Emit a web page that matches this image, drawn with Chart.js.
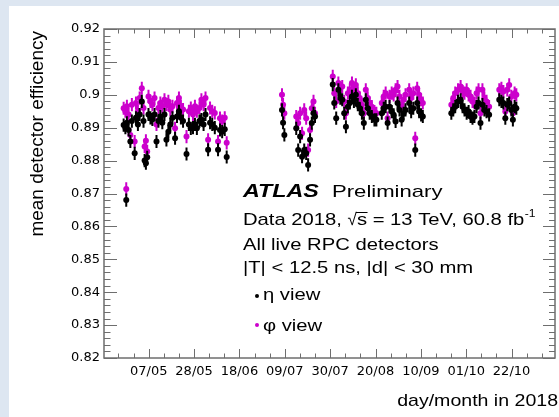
<!DOCTYPE html>
<html>
<head>
<meta charset="utf-8">
<script src="https://cdn.jsdelivr.net/npm/chart.js@4.4.0/dist/chart.umd.min.js"></script>
<style>
  html, body { margin: 0; padding: 0; background: #dde6f1; overflow: hidden; }
  canvas { display: block; }
</style>
</head>
<body>
<canvas id="plot" width="559" height="417"></canvas>
<script>
// day of year 2018 for each run
const DAYS = [
  115.4, 116.2, 116.6, 116.9, 117.7, 118.5, 119.2, 120.5, 121.1, 122.0,
  122.8, 123.8, 124.6, 125.1, 125.7, 126.3, 126.9, 127.8, 128.7, 129.7,
  130.6, 131.5, 132.4, 133.3, 134.3, 135.2, 136.1, 137.0, 138.0, 139.2,
  140.1, 141.0, 141.9, 142.9, 144.5, 145.6, 146.5, 147.5, 148.4, 149.3,
  150.5, 151.4, 152.4, 153.3, 154.5, 155.4, 156.4, 157.6, 159.1, 160.0,
  161.0, 162.2, 163.1,
  188.7, 189.2, 189.8,
  195.3, 196.2, 197.1, 198.0, 199.0, 199.9, 200.8, 201.7, 202.5, 203.3, 204.0,
  212.2, 212.9, 213.8, 214.8, 215.7, 216.6, 217.5, 218.3, 219.2, 220.1,
  221.1, 222.0, 222.9, 223.8, 224.7, 225.7, 226.6, 227.5, 228.4, 229.3,
  230.3, 231.5, 232.4, 234.9, 235.8, 236.7, 237.6, 238.5, 239.5, 240.4,
  241.3, 242.2, 243.1, 244.1, 245.0, 245.9, 247.6, 248.5, 249.5, 250.4,
  251.3, 252.2, 253.1, 253.9,
  267.1, 268.0, 268.9, 270.2, 271.4, 272.3, 273.2, 274.2, 275.1, 276.0,
  276.9, 277.8, 278.8, 279.7, 280.6, 281.5, 282.4, 283.4, 284.6,
  289.3, 290.3, 291.2, 292.1, 293.0, 293.9, 294.9, 295.6, 296.4, 297.2
];

// eta view efficiency
const ETA = [
  0.8908, 0.8900, 0.8680, 0.8915, 0.8893, 0.8858, 0.8920, 0.8822, 0.8930, 0.8910,
  0.8940, 0.8980, 0.8920, 0.8800, 0.8792, 0.8810, 0.8940, 0.8930, 0.8925, 0.8940,
  0.8858, 0.8920, 0.8934, 0.8915, 0.8940, 0.8863, 0.8888, 0.8910, 0.8930, 0.8868,
  0.8934, 0.8950, 0.8930, 0.8920, 0.8820, 0.8910, 0.8898, 0.8900, 0.8910, 0.8898,
  0.8920, 0.8925, 0.8910, 0.8940, 0.8833, 0.8915, 0.8910, 0.8900, 0.8833, 0.8893,
  0.8888, 0.8895, 0.8811,
  0.8954, 0.8915, 0.8878,
  0.8898, 0.8832, 0.8873, 0.8812, 0.8832, 0.8822, 0.8787, 0.8863, 0.8914, 0.8944, 0.8934,
  0.9031, 0.8975, 0.8929, 0.9015, 0.8990, 0.8985, 0.8944, 0.8903, 0.8964, 0.8975,
  0.8995, 0.8980, 0.9000, 0.8970, 0.8959, 0.8944, 0.8914, 0.8985, 0.8959, 0.8944,
  0.8934, 0.8924, 0.8924, 0.8944, 0.8959, 0.8964, 0.8914, 0.8964, 0.8949, 0.8939,
  0.8919, 0.8975, 0.8954, 0.8924, 0.8944, 0.8954, 0.8975, 0.8949, 0.8959, 0.8832,
  0.8975, 0.8949, 0.8939, 0.8934,
  0.8944, 0.8954, 0.8964, 0.8980, 0.8985, 0.8964, 0.8954, 0.8944, 0.8949, 0.8934,
  0.8929, 0.8934, 0.8964, 0.8975, 0.8914, 0.8970, 0.8954, 0.8949, 0.8939,
  0.8985, 0.8980, 0.8975, 0.8929, 0.8970, 0.8975, 0.8954, 0.8924, 0.8964, 0.8959
];

// phi view efficiency
const PHI = [
  0.8959, 0.8950, 0.8714, 0.8965, 0.8940, 0.8878, 0.8970, 0.8858, 0.8975, 0.8950,
  0.8990, 0.9020, 0.8960, 0.8843, 0.8860, 0.8828, 0.8995, 0.8980, 0.8970, 0.8990,
  0.8910, 0.8960, 0.8975, 0.8965, 0.8985, 0.8970, 0.8980, 0.8955, 0.8965, 0.8898,
  0.8975, 0.8990, 0.8965, 0.8955, 0.8873, 0.8950, 0.8960, 0.8940, 0.8965, 0.8950,
  0.8960, 0.8985, 0.8970, 0.8990, 0.8863, 0.8960, 0.8950, 0.8945, 0.8858, 0.8929,
  0.8920, 0.8930, 0.8854,
  0.9000, 0.8970, 0.8944,
  0.8934, 0.8914, 0.8944, 0.8883, 0.8954, 0.8929, 0.8832, 0.8893, 0.8959, 0.8980, 0.8944,
  0.9056, 0.9005, 0.8980, 0.9036, 0.9020, 0.9025, 0.8980, 0.8944, 0.9005, 0.9015,
  0.9036, 0.9020, 0.9030, 0.9005, 0.8990, 0.8970, 0.8944, 0.9015, 0.8990, 0.8975,
  0.8964, 0.8949, 0.8944, 0.8975, 0.8995, 0.9005, 0.8929, 0.8995, 0.9005, 0.9000,
  0.9015, 0.9025, 0.8995, 0.8964, 0.8985, 0.9000, 0.9015, 0.8990, 0.9005, 0.8868,
  0.9020, 0.9000, 0.8985, 0.8975,
  0.8970, 0.8990, 0.9005, 0.9015, 0.9025, 0.9010, 0.9005, 0.9015, 0.9000, 0.8995,
  0.8980, 0.8975, 0.9005, 0.9015, 0.8944, 0.9015, 0.8990, 0.8980, 0.8964,
  0.9015, 0.9020, 0.9010, 0.8949, 0.9015, 0.9030, 0.8995, 0.8944, 0.9005, 0.9000
];

const ERR_ETA = 0.0020;   // half length of the vertical error bars
const ERR_PHI = 0.0020;

const TICK_DAYS = [127, 148, 169, 190, 211, 232, 253, 274, 295];
const TICK_LABELS = ['07/05', '28/05', '18/06', '09/07', '30/07', '20/08', '10/09', '01/10', '22/10'];

const X_MIN = 106.3, X_MAX = 315.1;
const Y_MIN = 0.82, Y_MAX = 0.92;

const ETA_COLOR = '#000000';
const PHI_COLOR = '#cc00cc';
const FONT = '"Liberation Sans", Arial, Helvetica, sans-serif';

// text helper with a horizontal stretch, the original figure is squeezed wide
function txt(ctx, s, x, y, size, sx, opt = {}) {
    ctx.save();
    ctx.translate(x, y);
    ctx.scale(sx, 1);
    ctx.font = `${opt.style || 'normal'} ${opt.weight || 'normal'} ${size}px ${FONT}`;
    ctx.textAlign = opt.align || 'left';
    ctx.textBaseline = 'alphabetic';
    ctx.fillStyle = opt.color || '#000';
    ctx.fillText(s, 0, 0);
    const w = ctx.measureText(s).width * sx;
    ctx.restore();
    return w;
}

const rootStyle = {
    id: 'rootStyle',
    beforeDraw(chart) {
        const {ctx, width, height} = chart;
        ctx.save();
        ctx.fillStyle = '#dde6f1';
        ctx.fillRect(0, 0, width, height);
        ctx.fillStyle = '#ffffff';
        ctx.fillRect(9, 6, width - 9, height - 6);
        ctx.restore();
    },
    // error bars go under the markers of the same dataset
    beforeDatasetDraw(chart, args) {
        const {ctx, chartArea: a} = chart;
        const ds = chart.data.datasets[args.index];
        const y = chart.scales.y;
        ctx.save();
        ctx.beginPath();
        ctx.rect(a.left, a.top, a.right - a.left, a.bottom - a.top);
        ctx.clip();
        ctx.strokeStyle = ds.backgroundColor;
        ctx.lineWidth = 2;
        ctx.beginPath();
        args.meta.data.forEach((pt, i) => {
            const v = ds.data[i].y;
            ctx.moveTo(pt.x, y.getPixelForValue(v + ds.errY));
            ctx.lineTo(pt.x, y.getPixelForValue(v - ds.errY));
        });
        ctx.stroke();
        ctx.restore();
    },
    afterDraw(chart) {
        const {ctx, chartArea: a, scales: {x, y}} = chart;
        ctx.save();

        // frame and inward ticks, mirrored on top and right
        ctx.strokeStyle = '#6e6e6e';
        ctx.lineWidth = 1;
        ctx.beginPath();
        for (let d = 113; d <= X_MAX; d += 7) {
            const px = Math.round(x.getPixelForValue(d)) + 0.5;
            const len = (d - 127) % 21 === 0 ? 9 : 4.5;
            ctx.moveTo(px, a.bottom);
            ctx.lineTo(px, a.bottom - len);
            ctx.moveTo(px, a.top);
            ctx.lineTo(px, a.top + len);
        }
        for (let k = 0; k <= 50; k++) {
            const py = Math.round(y.getPixelForValue(Y_MIN + k * 0.002)) + 0.5;
            const major = k % 5 === 0;
            ctx.moveTo(a.left, py);
            ctx.lineTo(a.left + (major ? 13 : 6.5), py);
            ctx.moveTo(a.right, py);
            ctx.lineTo(a.right - (major ? 12 : 6), py);
        }
        ctx.stroke();
        ctx.lineWidth = 1.5;
        ctx.strokeRect(a.left, a.top, a.right - a.left, a.bottom - a.top);

        // axis titles
        txt(ctx, 'day/month in 2018', 558, 406, 17, 1.15, {align: 'right'});
        ctx.save();
        ctx.translate(43, 31);
        ctx.rotate(-Math.PI / 2);
        ctx.font = `19px ${FONT}`;
        ctx.textAlign = 'right';
        ctx.fillStyle = '#000';
        ctx.fillText('mean detector efficiency', 0, 0);
        ctx.restore();

        // ATLAS label block
        const L = 243;
        txt(ctx, 'ATLAS', L, 197, 17.5, 1.33, {style: 'italic', weight: 'bold'});
        txt(ctx, 'Preliminary', 332, 197, 17, 1.3);

        let cx = L;
        cx += txt(ctx, 'Data 2018, ', cx, 225, 17, 1.19);
        const rootW = txt(ctx, '\u221A', cx, 225, 17, 1.0);
        const sx0 = cx + rootW;
        const sW = txt(ctx, 's', sx0, 225, 17, 1.19);
        ctx.strokeStyle = '#000';
        ctx.lineWidth = 1;
        ctx.beginPath();
        ctx.moveTo(sx0 - 1, 212.5);
        ctx.lineTo(sx0 + sW + 0.5, 212.5);
        ctx.stroke();
        cx = sx0 + sW;
        cx += txt(ctx, ' = 13 TeV, 60.8 fb', cx, 225, 17, 1.19);
        txt(ctx, '-1', cx + 0.5, 217, 11, 1.1);

        txt(ctx, 'All live RPC detectors', L, 250, 17, 1.19);
        txt(ctx, '|T| < 12.5 ns, |d| < 30 mm', L, 273, 17, 1.19);

        ctx.fillStyle = ETA_COLOR;
        ctx.beginPath();
        ctx.arc(257, 296, 2, 0, Math.PI * 2);
        ctx.fill();
        txt(ctx, '\u03B7 view', 263, 300, 17, 1.19);

        ctx.fillStyle = PHI_COLOR;
        ctx.beginPath();
        ctx.arc(257, 325, 2, 0, Math.PI * 2);
        ctx.fill();
        txt(ctx, '\u03C6 view', 263, 331, 17, 1.19);

        ctx.restore();
    }
};

const ctx = document.getElementById('plot').getContext('2d');

new Chart(ctx, {
    type: 'scatter',
    data: {
        datasets: [
            {
                label: '\u03B7 view',
                data: DAYS.map((d, i) => ({x: d, y: ETA[i]})),
                backgroundColor: ETA_COLOR,
                borderWidth: 0,
                pointRadius: 3,
                errY: ERR_ETA
            },
            {
                label: '\u03C6 view',
                data: DAYS.map((d, i) => ({x: d, y: PHI[i]})),
                backgroundColor: PHI_COLOR,
                borderWidth: 0,
                pointRadius: 3,
                errY: ERR_PHI
            }
        ]
    },
    options: {
        responsive: false,
        animation: false,
        devicePixelRatio: 1,
        layout: {padding: {top: 29, right: 1, left: 0, bottom: 0}},
        plugins: {
            legend: {display: false},
            tooltip: {enabled: false}
        },
        scales: {
            x: {
                type: 'linear',
                min: X_MIN,
                max: X_MAX,
                grid: {display: false, drawTicks: false},
                border: {display: false},
                afterBuildTicks: s => { s.ticks = TICK_DAYS.map(v => ({value: v})); },
                afterFit: s => { s.height = 59; },
                ticks: {
                    autoSkip: false,
                    maxRotation: 0,
                    padding: 6,
                    color: '#000',
                    font: {family: 'DejaVu Sans', size: 13},
                    callback: v => TICK_LABELS[TICK_DAYS.indexOf(v)] ?? ''
                }
            },
            y: {
                min: Y_MIN,
                max: Y_MAX,
                grid: {display: false, drawTicks: false},
                border: {display: false},
                afterFit: s => { s.width = 104; },
                ticks: {
                    stepSize: 0.01,
                    autoSkip: false,
                    padding: 4,
                    color: '#000',
                    font: {family: 'DejaVu Sans', size: 13},
                    callback: v => String(Math.round(v * 100) / 100)
                }
            }
        }
    },
    plugins: [rootStyle]
});
</script>
</body>
</html>
